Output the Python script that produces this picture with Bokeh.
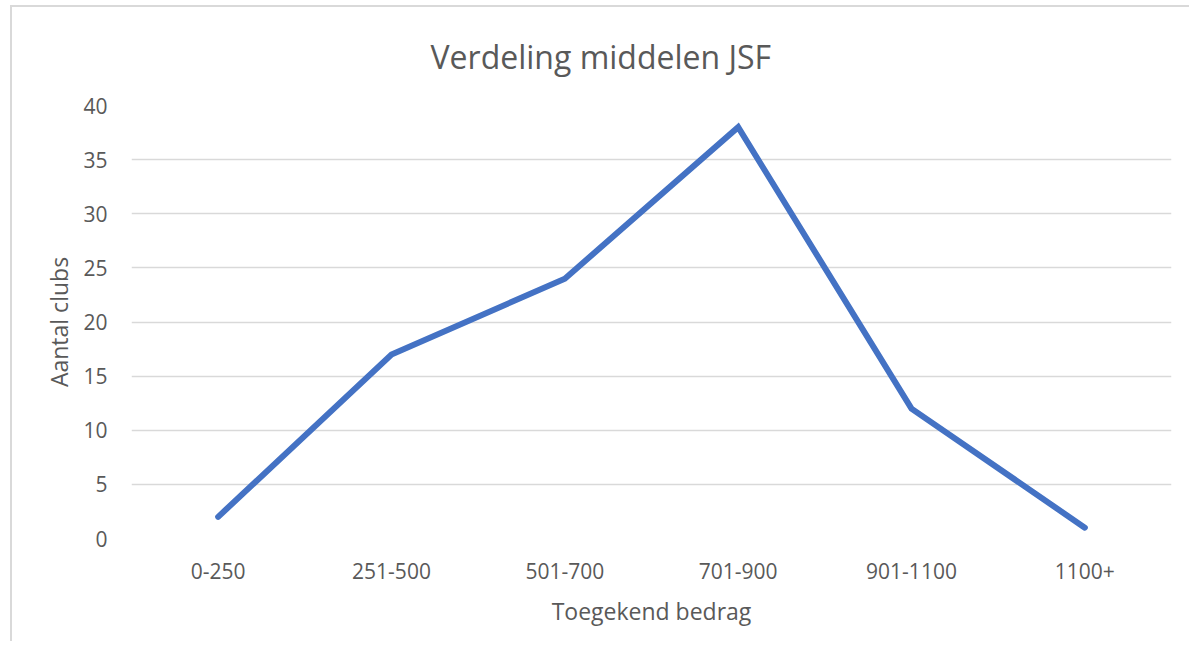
from bokeh.plotting import figure
from bokeh.models import FactorRange, Range1d, FixedTicker, Title
from bokeh.embed import file_html
from bokeh.resources import INLINE

categories = ["0-250", "251-500", "501-700", "701-900", "901-1100", "1100+"]
values = [2, 17, 24, 38, 12, 1]
y_ticks = [0, 5, 10, 15, 20, 25, 30, 35, 40]
title_text = "Verdeling middelen JSF"
x_label = "Toegekend bedrag"
y_label = "Aantal clubs"

FONT = "Open Sans"
TXT = "#595959"

p = figure(
    x_range=FactorRange(*categories),
    y_range=Range1d(0, 40),
    width=1179, height=636,
    output_backend="svg", toolbar_location=None,
    min_border_left=119, min_border_right=20,
    min_border_top=98, min_border_bottom=105,
)
p.styles = {
    "border-left": "2px solid #d9d9d9",
    "border-top": "2px solid #d9d9d9",
    "margin-left": "10px",
    "margin-top": "5px",
}
p.outline_line_color = None
p.background_fill_color = "white"
p.border_fill_color = "white"

p.title = Title(text=title_text, align="left", offset=299,
                vertical_align="top",
                text_font=FONT, text_font_size="32px",
                text_font_style="normal", text_color=TXT, standoff=52)

p.line(x=categories, y=values, line_width=6, color="#4472C4",
       line_cap="round", line_join="miter")

p.xgrid.grid_line_color = None
p.ygrid.ticker = FixedTicker(ticks=y_ticks)
p.ygrid.grid_line_color = "#d9d9d9"
p.ygrid.grid_line_width = 1.5

for ax in (p.xaxis[0], p.yaxis[0]):
    ax.axis_line_color = None
    ax.major_tick_line_color = None
    ax.minor_tick_line_color = None
    ax.major_label_text_font = FONT
    ax.major_label_text_font_size = "21px"
    ax.major_label_text_color = TXT
    ax.axis_label_text_font = FONT
    ax.axis_label_text_font_size = "23px"
    ax.axis_label_text_font_style = "normal"
    ax.axis_label_text_color = TXT

p.yaxis[0].ticker = FixedTicker(ticks=y_ticks)
p.yaxis[0].major_label_standoff = 18
p.yaxis[0].axis_label = y_label
p.yaxis[0].axis_label_standoff = 5
p.xaxis[0].major_label_standoff = 18
p.xaxis[0].axis_label = x_label
p.xaxis[0].axis_label_standoff = 13

open("out.html", "w").write(file_html(p, INLINE))
